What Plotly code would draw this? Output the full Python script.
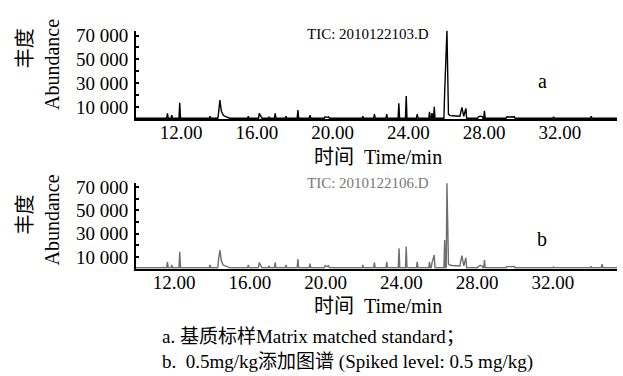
import plotly.graph_objects as go

# ---------------- data ----------------
BASELINE = 800          # abundance of the flat baseline
HALF_W = 0.04           # half width of a peak (min)

# panel a : matrix matched standard (TIC: 2010122103.D)
a_rt = [11.28, 11.51, 11.93, 13.53, 13.98, 14.05, 14.13, 14.23, 14.33, 14.43, 14.53,
        15.55, 16.13, 16.23, 16.65, 16.97, 17.54, 18.17, 18.81, 19.60, 19.70, 19.79,
        21.60, 22.21, 22.86, 23.50, 23.89, 24.47, 25.12, 25.25, 25.37, 25.92, 26.04,
        26.12, 26.22, 26.32, 26.42, 26.52, 26.62, 26.72, 26.83, 26.93, 27.04,
        27.70, 27.80, 27.90, 28.02, 29.20, 29.30, 29.40, 29.50, 29.60, 31.67, 33.66]
a_abund = [4800, 3400, 13700, 2500, 5000, 16000, 6500, 3200, 2400, 1900, 1600,
           2500, 4800, 2600, 2000, 4800, 2500, 7600, 3400, 2000, 1500, 2000,
           2500, 4200, 4200, 13200, 19400, 4200, 6200, 5000, 10400, 23000, 74000,
           4000, 3000, 2800, 2600, 2500, 2400, 2400, 9800, 2400, 9000,
           2000, 2500, 2200, 7000, 2000, 1800, 2000, 1800, 2000, 2000, 2500]

# panel b : spiked level 0.5 mg/kg (TIC: 2010122106.D)
b_rt = [11.65, 11.88, 12.30, 13.90, 14.35, 14.42, 14.50, 14.60, 14.70, 14.80, 14.90,
        15.92, 16.50, 16.60, 17.02, 17.34, 17.91, 18.54, 19.18, 19.97, 20.07, 20.16,
        21.97, 22.58, 23.23, 23.88, 24.26, 24.84, 25.49, 25.62, 25.74, 26.29, 26.41,
        26.49, 26.59, 26.69, 26.79, 26.89, 26.99, 27.09, 27.20, 27.30, 27.41,
        28.07, 28.17, 28.27, 28.39, 29.57, 29.67, 29.77, 29.87, 29.97, 32.04, 34.03, 34.60]
b_abund = [6000, 3200, 14600, 3200, 7700, 16000, 6500, 3200, 2400, 1900, 1600,
           3200, 5400, 2600, 2500, 5400, 3200, 8400, 4300, 2600, 1800, 2600,
           3200, 5400, 6000, 17500, 19000, 6000, 6000, 5000, 11800, 24700, 73500,
           4000, 3000, 2800, 2600, 2500, 2400, 2400, 11200, 2400, 9500,
           2000, 3000, 2200, 7500, 2000, 1800, 2000, 1800, 2000, 1500, 2000, 4000]

y_tickvals = [10000, 20000, 30000, 40000, 50000, 60000, 70000]
y_ticktext = ["10 000", "", "30 000", "", "50 000", "", "70 000"]
x_tickvals = [12, 16, 20, 24, 28, 32]
x_ticktext = ["12.00", "16.00", "20.00", "24.00", "28.00", "32.00"]

a_xrange = [9.62, 35.02]
b_xrange = [9.99, 35.39]
a_yrange = [0, 74100]
b_yrange = [0, 73500]


def build_trace(rts, abunds, t_start, t_end):
    xs, ys = [t_start], [BASELINE]
    prev = None
    for t, h in zip(rts, abunds):
        if prev is None or t - prev > 0.12:
            if prev is not None:
                xs.append(prev + HALF_W); ys.append(BASELINE)
            xs.append(t - HALF_W); ys.append(BASELINE)
        xs.append(t); ys.append(h)
        prev = t
    xs.append(prev + HALF_W); ys.append(BASELINE)
    xs.append(t_end); ys.append(BASELINE)
    return xs, ys


W, H = 623, 376
FONT = "Liberation Serif, Noto Sans CJK SC"

fig = go.Figure()
ax, ay = build_trace(a_rt, a_abund, a_xrange[0], a_xrange[1])
bx, by = build_trace(b_rt, b_abund, b_xrange[0], b_xrange[1])
fig.add_trace(go.Scatter(x=ax, y=ay, mode="lines", line=dict(color="#000000", width=1.4),
                         xaxis="x", yaxis="y", showlegend=False, hoverinfo="skip"))
fig.add_trace(go.Scatter(x=bx, y=by, mode="lines", line=dict(color="#6e6e6e", width=1.4),
                         xaxis="x2", yaxis="y2", showlegend=False, hoverinfo="skip"))


def px_x(p):
    return p / W


def px_y(p):
    return 1 - p / H


xdom = [px_x(136), px_x(617)]
common_x = dict(showline=True, linecolor="black", linewidth=2, showgrid=False, zeroline=False,
                tickmode="array", tickvals=x_tickvals, ticktext=x_ticktext, ticks="",
                ticklabelstandoff=-5,
                tickfont=dict(family=FONT, size=19, color="black"))
common_y = dict(showline=True, linecolor="black", linewidth=2, showgrid=False, zeroline=False,
                tickmode="array", tickvals=y_tickvals, ticktext=y_ticktext, ticks="inside",
                ticklen=3, tickwidth=1.5, tickcolor="black", ticklabelstandoff=2,
                tickfont=dict(family=FONT, size=19, color="black"))

fig.update_layout(
    width=W, height=H, margin=dict(l=0, r=0, t=0, b=0),
    paper_bgcolor="white", plot_bgcolor="white",
    xaxis=dict(domain=xdom, range=a_xrange, anchor="y", **common_x),
    yaxis=dict(domain=[px_y(115), px_y(25)], anchor="x", range=a_yrange, **common_y),
    xaxis2=dict(domain=xdom, range=b_xrange, anchor="y2", **common_x),
    yaxis2=dict(domain=[px_y(267), px_y(180)], anchor="x2", range=b_yrange, **common_y),
)

ann = []


def add_text(text, x, y, size, color="black", angle=0, xanchor="center"):
    ann.append(dict(text=text, x=px_x(x), y=px_y(y), xref="paper", yref="paper",
                    showarrow=False, textangle=angle, xanchor=xanchor, yanchor="middle",
                    font=dict(family=FONT, size=size, color=color)))


# axis titles
add_text("丰度", 25, 43, 20, angle=-90)
add_text("Abundance", 52, 60, 20, angle=-90)
add_text("丰度", 25, 212, 20, angle=-90)
add_text("Abundance", 52, 218, 20, angle=-90)
add_text("时间  Time/min", 378, 153, 20)
add_text("时间  Time/min", 378, 305, 20)
# in-panel labels
add_text("TIC: 2010122103.D", 368, 28, 15)
add_text("TIC: 2010122106.D", 368, 180, 15, color="#777777")
add_text("a", 542, 76, 20)
add_text("b", 542, 237, 20)
# caption
add_text("a. 基质标样Matrix matched standard；", 160, 336, 19, xanchor="left")
add_text("b.  0.5mg/kg添加图谱 (Spiked level: 0.5 mg/kg)", 160, 362, 19, xanchor="left")

fig.update_layout(annotations=ann)
fig.write_html("out.html", config={"displayModeBar": False},
               post_script="document.body.style.margin='0';document.body.style.overflow='hidden';")
